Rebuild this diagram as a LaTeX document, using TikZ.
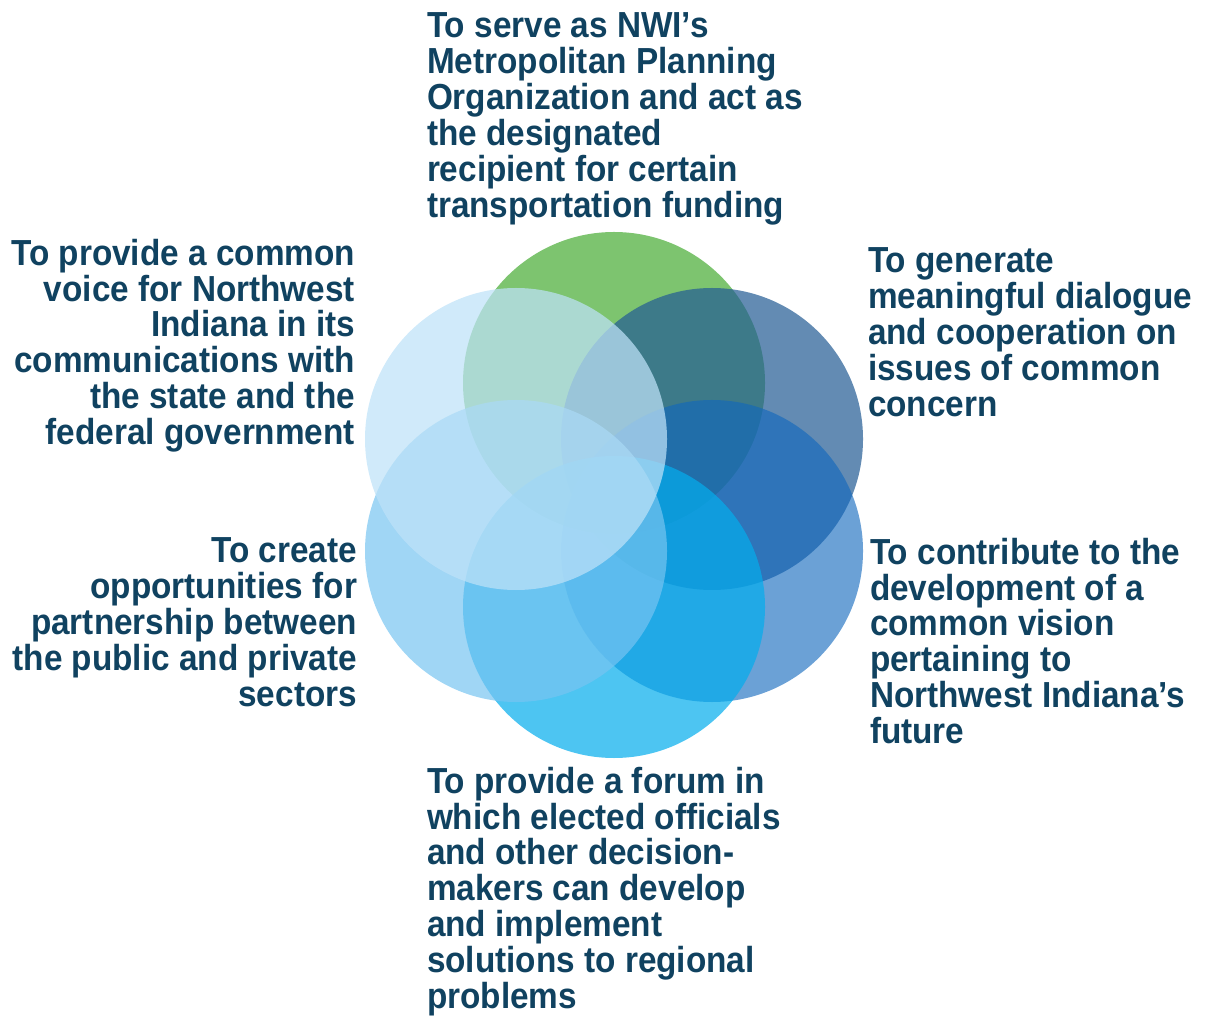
\documentclass[tikz,border=0pt]{standalone}
\usepackage{fontspec}
\setmainfont{Liberation Sans}[FakeStretch=0.92]
\usepackage{tikz}
\usepackage{xcolor}
\definecolor{nwiText}{RGB}{16,66,96}
\definecolor{nwiGreen}{RGB}{125,196,111}
\definecolor{nwiNavy}{RGB}{35,92,148}
\definecolor{nwiBlue}{RGB}{16,103,189}
\definecolor{nwiCyan}{RGB}{4,173,237}
\definecolor{nwiSky}{RGB}{119,196,241}
\definecolor{nwiPale}{RGB}{190,226,248}
\tikzset{
Petale/.style={
 fill=#1,
 draw=none
 },
Objectif/.style={
 inner sep=0pt,
 outer sep=0pt,
 text=nwiText,
 font=\fontsize{10.3pt}{10.19pt}\selectfont\bfseries
 },
ObjectifG/.style={
 Objectif,
 align=left,
 anchor=north west
 },
ObjectifD/.style={
 Objectif,
 align=right,
 anchor=north east
 }
}
\begin{document}
\begin{tikzpicture}[x=0.01cm,y=0.01cm]
\useasboundingbox (0,0) rectangle (1207,1015);
\fill[Petale=nwiGreen] (614,632) circle (151);
\fill[Petale=nwiNavy,fill opacity=0.71] (712,576) circle (151);
\fill[Petale=nwiBlue,fill opacity=0.62] (712,464) circle (151);
\fill[Petale=nwiCyan,fill opacity=0.71] (614,408) circle (151);
\fill[Petale=nwiSky,fill opacity=0.7] (516,464) circle (151);
\fill[Petale=nwiPale,fill opacity=0.72] (516,576) circle (151);
\node[ObjectifG] (mpo) at (427,1002) {To serve as NWI’s\\Metropolitan Planning\\Organization and act as\\the designated\\recipient for certain\\transportation funding};
\node[ObjectifG] (dialogue) at (868,767) {To generate\\meaningful dialogue\\and cooperation on\\issues of common\\concern};
\node[ObjectifG] (vision) at (870,477) {To contribute to the\\development of a\\common vision\\pertaining to\\Northwest Indiana’s\\future};
\node[ObjectifG] (forum) at (427,248) {To provide a forum in\\which elected officials\\and other decision-\\makers can develop\\and implement\\solutions to regional\\problems};
\node[ObjectifD] (voix) at (355,776) {To provide a common\\voice for Northwest\\Indiana in its\\communications with\\the state and the\\federal government};
\node[ObjectifD] (partenariat) at (357,477) {To create\\opportunities for\\partnership between\\the public and private\\sectors};
\end{tikzpicture}
\end{document}
